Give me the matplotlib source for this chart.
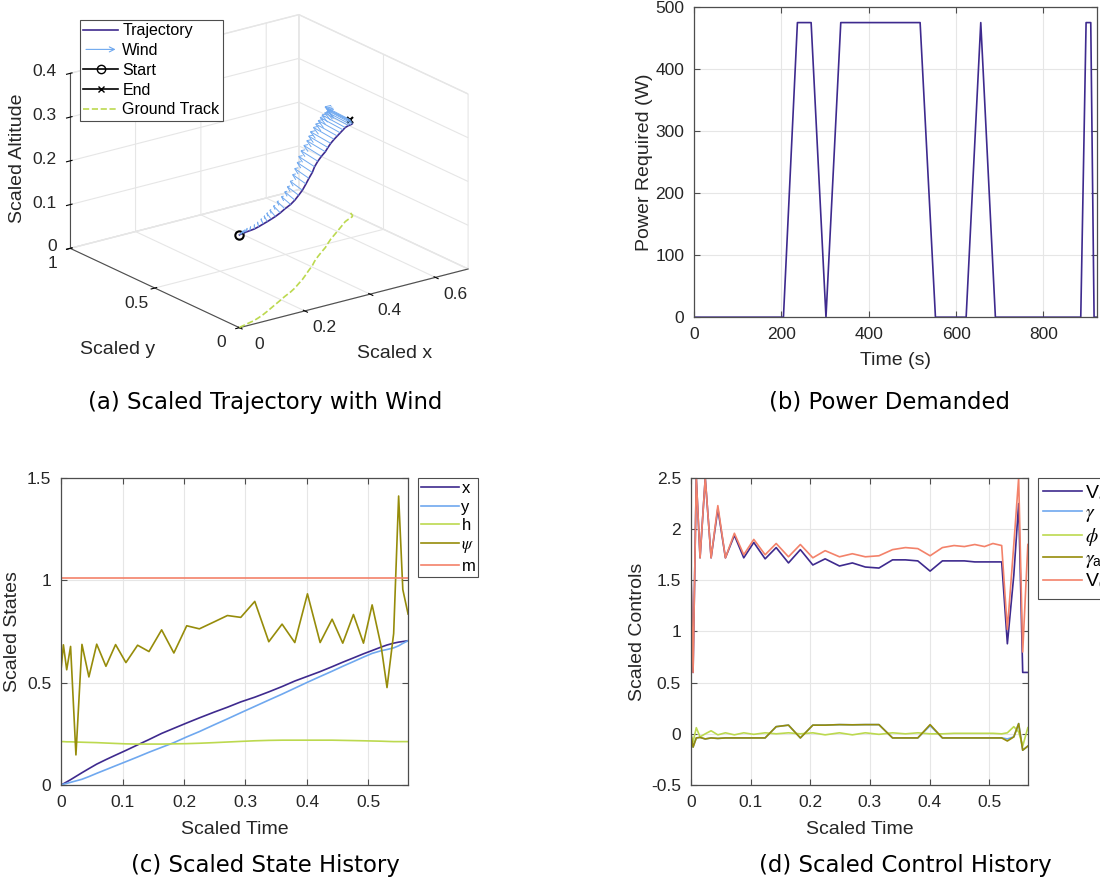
import numpy as np
import matplotlib
matplotlib.use("Agg")
import matplotlib.pyplot as plt
from matplotlib.lines import Line2D
from matplotlib.legend_handler import HandlerBase
from matplotlib.patches import FancyArrowPatch
from mpl_toolkits.mplot3d import proj3d

plt.rcParams['font.family'] = ['Liberation Sans', 'DejaVu Sans']
plt.rcParams['mathtext.fontset'] = 'stix'

# scaled time nodes shared by the state / control histories
t = [0, 0.0038, 0.0092, 0.0155, 0.0242, 0.0340, 0.0453, 0.0580, 0.0730, 0.0887,
     0.1055, 0.1245, 0.1430, 0.1636, 0.1835, 0.2044, 0.2250, 0.2490, 0.2706, 0.2923,
     0.3151, 0.3379, 0.3595, 0.3802, 0.4008, 0.4214, 0.4409, 0.4582, 0.4756, 0.4919,
     0.5060, 0.5207, 0.5302, 0.5410, 0.5491, 0.5559, 0.5645]

# states
x = [0, 0.006, 0.015, 0.026, 0.042, 0.060, 0.080, 0.102, 0.124, 0.146,
     0.169, 0.196, 0.222, 0.252, 0.277, 0.303, 0.328, 0.356, 0.380, 0.406,
     0.429, 0.455, 0.481, 0.508, 0.531, 0.554, 0.578, 0.600, 0.621, 0.641,
     0.657, 0.674, 0.684, 0.693, 0.698, 0.701, 0.705]
y = [0, 0.004, 0.008, 0.013, 0.020, 0.028, 0.041, 0.057, 0.075, 0.094,
     0.114, 0.137, 0.160, 0.184, 0.207, 0.235, 0.261, 0.294, 0.323, 0.353,
     0.384, 0.415, 0.444, 0.473, 0.502, 0.530, 0.556, 0.580, 0.603, 0.625,
     0.643, 0.656, 0.662, 0.670, 0.680, 0.692, 0.705]
h = [0.212, 0.212, 0.211, 0.211, 0.210, 0.209, 0.208, 0.207, 0.205, 0.203,
     0.201, 0.200, 0.200, 0.200, 0.201, 0.202, 0.204, 0.207, 0.210, 0.213,
     0.216, 0.218, 0.219, 0.219, 0.219, 0.219, 0.219, 0.218, 0.217, 0.216,
     0.215, 0.214, 0.213, 0.212, 0.212, 0.212, 0.212]
psi = [0.563, 0.685, 0.563, 0.677, 0.147, 0.687, 0.528, 0.688, 0.580, 0.686,
       0.598, 0.683, 0.652, 0.758, 0.645, 0.778, 0.763, 0.797, 0.828, 0.819,
       0.897, 0.700, 0.786, 0.696, 0.934, 0.696, 0.810, 0.693, 0.833, 0.693,
       0.880, 0.677, 0.476, 0.740, 1.412, 0.955, 0.835]
m = [1.01] * len(t)

# controls
Va = [1.68, 0.60, 2.50, 1.72, 2.50, 1.72, 2.20, 1.72, 1.94, 1.72,
      1.87, 1.71, 1.82, 1.67, 1.80, 1.65, 1.71, 1.64, 1.67, 1.63,
      1.62, 1.70, 1.70, 1.69, 1.59, 1.69, 1.69, 1.69, 1.68, 1.68,
      1.68, 1.68, 0.88, 1.55, 2.25, 0.60, 0.60]
gam = [0.00, -0.13, -0.04, -0.035, -0.05, -0.04, -0.045, -0.04, -0.04, -0.04,
       -0.04, -0.04, 0.07, 0.085, -0.04, 0.085, 0.085, 0.09, 0.088, 0.09,
       0.09, -0.04, -0.04, -0.04, 0.08, -0.04, -0.04, -0.04, -0.04, -0.04,
       -0.04, -0.04, -0.05, -0.03, 0.10, -0.16, -0.12]
phi = [0.00, -0.08, 0.06, -0.03, 0.00, 0.03, -0.01, 0.01, -0.01, 0.01,
       -0.005, 0.01, 0.00, 0.01, 0.00, 0.01, -0.01, 0.01, -0.01, 0.01,
       -0.005, 0.01, 0.00, 0.01, 0.00, 0.00, 0.005, 0.005, 0.005, 0.005,
       0.005, 0.00, 0.01, 0.07, 0.02, -0.12, 0.06]
gam_a = [0.00, -0.13, -0.04, -0.035, -0.05, -0.04, -0.045, -0.04, -0.04, -0.04,
         -0.04, -0.04, 0.07, 0.085, -0.04, 0.085, 0.085, 0.09, 0.088, 0.09,
         0.09, -0.04, -0.04, -0.04, 0.09, -0.04, -0.04, -0.04, -0.04, -0.04,
         -0.04, -0.04, -0.07, -0.03, 0.10, -0.16, -0.12]
Vg = [1.68, 0.60, 2.50, 1.72, 2.50, 1.72, 2.23, 1.72, 1.96, 1.75,
      1.90, 1.75, 1.86, 1.73, 1.85, 1.72, 1.79, 1.73, 1.76, 1.73,
      1.74, 1.80, 1.82, 1.81, 1.74, 1.82, 1.84, 1.83, 1.85, 1.83,
      1.86, 1.84, 1.02, 1.85, 2.50, 0.80, 1.85]

# wind at each trajectory node (scaled)
wind_u = [0.020, 0.020, 0.020, 0.019, 0.019, 0.019, 0.018, 0.018, 0.018, 0.017,
          0.017, 0.016, 0.016, 0.015, 0.015, 0.014, 0.014, 0.013, 0.013, 0.012,
          0.012, 0.011, 0.011, 0.010, 0.010, 0.009, 0.009, 0.008, 0.008, 0.007,
          0.007, 0.006, 0.006, 0.006, 0.005, 0.005, 0.005]
wind_v = [0.020, 0.022, 0.025, 0.028, 0.032, 0.036, 0.041, 0.047, 0.053, 0.059,
          0.065, 0.071, 0.077, 0.083, 0.089, 0.094, 0.099, 0.104, 0.109, 0.113,
          0.117, 0.121, 0.125, 0.129, 0.133, 0.137, 0.140, 0.143, 0.146, 0.149,
          0.151, 0.153, 0.155, 0.157, 0.158, 0.159, 0.160]
wind_w = [0.0] * len(t)

# power demand
p_time = [0, 204.6, 236.6, 268, 302, 335.9, 517.6, 552.7, 623, 656.5,
          690, 885.5, 897.7, 908.4, 916, 922]
p_watt = [0, 0, 475, 475, 0, 475, 475, 0, 0, 475,
          0, 0, 475, 475, 0, 0]

# 3-D axis ticks
xt3 = [0, 0.2, 0.4, 0.6]
yt3 = [0, 0.5, 1]
zt3 = [0, 0.1, 0.2, 0.3, 0.4]

c_purple = '#3e2a8e'
c_blue = '#6fa8ef'
c_lgreen = '#bcd94f'
c_olive = '#968c0a'
c_orange = '#f3826a'
c_grid = '#e6e6e6'
c_axis = '#4d4d4d'
c_text = '#262626'
lw = 1.2


def style2d(ax):
    ax.grid(True, color=c_grid, linewidth=0.8)
    ax.set_axisbelow(True)
    for s in ax.spines.values():
        s.set_color(c_axis)
        s.set_linewidth(0.9)
    ax.tick_params(direction='in', length=4, top=True, right=True, pad=7,
                   colors=c_axis, labelcolor=c_text, labelsize=12.5)


def fmt(v):
    return '%g' % v


class ArrowHandler(HandlerBase):
    def create_artists(self, legend, orig_handle, xdescent, ydescent,
                       width, height, fontsize, trans):
        yc = height / 2 - ydescent
        arr = FancyArrowPatch((-xdescent, yc), (width - xdescent, yc),
                              arrowstyle='->', mutation_scale=9,
                              color=c_blue, lw=0.8, transform=trans)
        return [arr]


fig = plt.figure(figsize=(11, 8.86), dpi=100)

# (a) 3-D trajectory
ax = fig.add_axes([0.01, 0.586, 0.46, 0.43], projection='3d')
ax.set_proj_type('ortho')
ax.view_init(elev=20.3, azim=-126.5)
ax.set_box_aspect((1, 1, 0.656), zoom=1.13)
ax.plot(x, y, h, color=c_purple, lw=lw)
ax.quiver(x, y, h, wind_u, wind_v, wind_w, color=c_blue, lw=0.7,
          arrow_length_ratio=0.25)
ax.plot([x[0]], [y[0]], [h[0]], 'o', mfc='none', mec='k', mew=1.5, ms=6)
ax.plot([x[-1]], [y[-1]], [h[-1]], 'x', color='k', mew=1.5, ms=5)
ax.plot(x, y, [0] * len(x), '--', color=c_lgreen, lw=lw)
ax.set_xlim(0, 0.7)
ax.set_ylim(0, 1)
ax.set_zlim(0, 0.4)
ax.set_xticks(xt3)
ax.set_yticks(yt3)
ax.set_zticks(zt3)
ax.set_xticklabels([])
ax.set_yticklabels([])
ax.set_zticklabels([])
for axis in (ax.xaxis, ax.yaxis, ax.zaxis):
    axis.set_pane_color((1, 1, 1, 1))
    axis.pane.set_edgecolor(c_grid)
    axis._axinfo['grid']['color'] = c_grid
    axis._axinfo['grid']['linewidth'] = 0.8
    axis.line.set_color(c_axis)
# axis titles drawn flat, as in the original
fig.text(395 / 1100, 1 - 354 / 886, 'Scaled x', fontsize=14, color=c_text,
         ha='center', va='center')
fig.text(118 / 1100, 1 - 350 / 886, 'Scaled y', fontsize=14, color=c_text,
         ha='center', va='center')
fig.text(18 / 1100, 1 - 158 / 886, 'Scaled Altitude', fontsize=14, color=c_text,
         ha='center', va='center', rotation=90)
wind_proxy = Line2D([], [], color=c_blue)
handles = [Line2D([], [], color=c_purple, lw=lw), wind_proxy,
           Line2D([], [], color='k', marker='o', mfc='none', lw=1.2),
           Line2D([], [], color='k', marker='x', lw=1.2, ms=4),
           Line2D([], [], color=c_lgreen, ls='--', lw=lw)]
leg = ax.legend(handles, ['Trajectory', 'Wind', 'Start', 'End', 'Ground Track'],
                handler_map={wind_proxy: ArrowHandler()},
                loc='upper left', bbox_to_anchor=(80 / 1100, 1 - 20 / 886),
                bbox_transform=fig.transFigure, fontsize=11.5,
                fancybox=False, edgecolor=c_axis, framealpha=1,
                borderpad=0.2, labelspacing=0.3, handlelength=2.2,
                handletextpad=0.25, borderaxespad=0)
leg.get_frame().set_linewidth(0.8)

# (b) power demanded
axb = fig.add_axes([0.631, 0.642, 0.366, 0.350])
axb.plot(p_time, p_watt, color=c_purple, lw=lw)
axb.set_xlim(0, 922)
axb.set_ylim(0, 500)
axb.set_xticks([0, 200, 400, 600, 800])
axb.set_yticks([0, 100, 200, 300, 400, 500])
axb.set_xlabel('Time (s)', fontsize=14, color=c_text, labelpad=7)
axb.set_ylabel('Power Required (W)', fontsize=14, color=c_text, labelpad=2)
style2d(axb)

# (c) state history
axc = fig.add_axes([0.0555, 0.114, 0.3155, 0.3465])
axc.plot(t, x, color=c_purple, lw=lw, label='x')
axc.plot(t, y, color=c_blue, lw=lw, label='y')
axc.plot(t, h, color=c_lgreen, lw=lw, label='h')
axc.plot(t, psi, color=c_olive, lw=lw, label=r'$\psi$')
axc.plot(t, m, color=c_orange, lw=lw, label='m')
axc.set_xlim(0, t[-1])
axc.set_ylim(0, 1.5)
axc.set_xticks([0, 0.1, 0.2, 0.3, 0.4, 0.5])
axc.set_xticklabels(['0', '0.1', '0.2', '0.3', '0.4', '0.5'])
axc.set_yticks([0, 0.5, 1, 1.5])
axc.set_yticklabels(['0', '0.5', '1', '1.5'])
axc.set_xlabel('Scaled Time', fontsize=14, color=c_text, labelpad=8)
axc.set_ylabel('Scaled States', fontsize=14, color=c_text, labelpad=4)
style2d(axc)
leg = axc.legend(loc='upper left', bbox_to_anchor=(1.029, 1), fontsize=12,
                 fancybox=False, edgecolor=c_axis, framealpha=1,
                 borderpad=0.18, labelspacing=0.22, handlelength=2.3,
                 handletextpad=0.12, borderaxespad=0)
leg.get_frame().set_linewidth(0.8)

# (d) control history
axd = fig.add_axes([0.628, 0.114, 0.3064, 0.3465])
axd.plot(t, Va, color=c_purple, lw=lw, label=r'V$_\mathregular{a}$')
axd.plot(t, gam, color=c_blue, lw=lw, label=r'$\gamma$')
axd.plot(t, phi, color=c_lgreen, lw=lw, label=r'$\phi$')
axd.plot(t, gam_a, color=c_olive, lw=lw, label=r'$\gamma_\mathregular{a}$')
axd.plot(t, Vg, color=c_orange, lw=lw, label=r'V$_\mathregular{g}$')
axd.set_xlim(0, t[-1])
axd.set_ylim(-0.5, 2.5)
axd.set_xticks([0, 0.1, 0.2, 0.3, 0.4, 0.5])
axd.set_xticklabels(['0', '0.1', '0.2', '0.3', '0.4', '0.5'])
axd.set_yticks([-0.5, 0, 0.5, 1, 1.5, 2, 2.5])
axd.set_yticklabels(['-0.5', '0', '0.5', '1', '1.5', '2', '2.5'])
axd.set_xlabel('Scaled Time', fontsize=14, color=c_text, labelpad=8)
axd.set_ylabel('Scaled Controls', fontsize=14, color=c_text, labelpad=4)
style2d(axd)
leg = axd.legend(loc='upper left', bbox_to_anchor=(1.03, 1), fontsize=14,
                 fancybox=False, edgecolor=c_axis, framealpha=1,
                 borderpad=0.25, labelspacing=0.1, handlelength=2.0,
                 handletextpad=0.15, borderaxespad=0)
leg.get_frame().set_linewidth(0.8)

# captions
cap = dict(fontsize=16.4, family='DejaVu Sans', color='k', ha='center', va='center')
fig.text(0.241, 0.546, '(a) Scaled Trajectory with Wind', **cap)
fig.text(0.809, 0.546, '(b) Power Demanded', **cap)
fig.text(0.241, 0.0226, '(c) Scaled State History', **cap)
fig.text(0.8227, 0.0226, '(d) Scaled Control History', **cap)

# 3-D tick labels placed MATLAB-style, offset away from the box;
# positions come from the axes' own projection once it is laid out
fig.canvas.draw()
M = ax.get_proj()
W, H = fig.bbox.width, fig.bbox.height


def label3d(px, py, pz, s, ha):
    xp, yp, _ = proj3d.proj_transform(px, py, pz, M)
    dx, dy = ax.transData.transform((xp, yp))
    fig.text(dx / W, dy / H, s, fontsize=12.5, color=c_text, ha=ha, va='center')


for v in xt3:
    label3d(v, -0.116, -0.017, fmt(v), 'center')
for v in yt3:
    label3d(-0.055, v, -0.024, fmt(v), 'center')
for v in zt3:
    label3d(-0.02, 1.04, v, fmt(v), 'right')

fig.savefig('out.png', dpi=100)
